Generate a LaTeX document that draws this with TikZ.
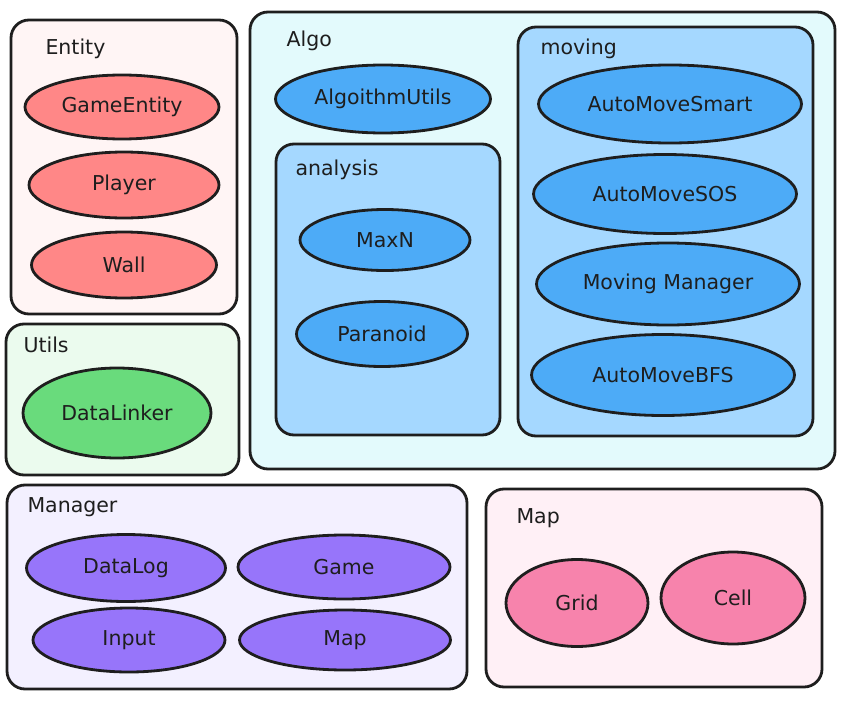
\documentclass[tikz,border=0pt]{standalone}
\usepackage{fontspec}
\setmainfont{DejaVu Sans}
\usetikzlibrary{shapes.geometric}
\definecolor{ink}{HTML}{1E1E1E}
\definecolor{entitybg}{HTML}{FFF5F5}
\definecolor{entityfg}{HTML}{FF8787}
\definecolor{utilsbg}{HTML}{EBFBEE}
\definecolor{utilsfg}{HTML}{69DB7C}
\definecolor{algobg}{HTML}{E3FAFC}
\definecolor{algomid}{HTML}{A5D8FF}
\definecolor{algofg}{HTML}{4DABF7}
\definecolor{managerbg}{HTML}{F3F0FF}
\definecolor{managerfg}{HTML}{9775FA}
\definecolor{mapbg}{HTML}{FFF0F6}
\definecolor{mapfg}{HTML}{F783AC}
\begin{document}
\begin{tikzpicture}[x=1pt,y=-1pt,
    every node/.style={font=\fontsize{20.5}{24}\selectfont, text=ink},
    group/.style={draw=ink, line width=2.8pt, rounded corners=18pt},
    title/.style={anchor=base west},
    blob/.style 2 args={ellipse, draw=ink, line width=2.8pt, inner sep=0pt,
      minimum width=#1pt, minimum height=#2pt}]
  \useasboundingbox (0,0) rectangle (846,701);
  \draw[group, fill=entitybg] (11,20) rectangle (237,314);
  \draw[group, fill=utilsbg] (6,324) rectangle (239,475);
  \draw[group, fill=algobg] (250,12) rectangle (835,469);
  \draw[group, fill=algomid] (276,144) rectangle (500,435);
  \draw[group, fill=algomid] (518,27) rectangle (813,436);
  \draw[group, fill=managerbg] (7,485) rectangle (467,689);
  \draw[group, fill=mapbg] (486,489) rectangle (822,687);
  \draw
    (42,55) node[title] (entity) {Entity}
    (122,107) node[blob={194}{64}, fill=entityfg] (gameentity) {GameEntity}
    (124,185) node[blob={190}{66}, fill=entityfg] (player) {Player}
    (124,265) node[blob={185}{66}, fill=entityfg] (wall) {Wall}
    (20,352) node[title] (utils) {Utils}
    (117,413) node[blob={188}{90}, fill=utilsfg] (datalinker) {DataLinker}
    (283,47) node[title] (algo) {Algo}
    (383,99) node[blob={215}{68}, fill=algofg] (algoithmutils) {AlgoithmUtils}
    (292,175) node[title] (analysis) {analysis}
    (385,240) node[blob={170}{61}, fill=algofg] (maxn) {MaxN}
    (382,334) node[blob={171}{65}, fill=algofg] (paranoid) {Paranoid}
    (537,55) node[title] (moving) {moving}
    (670,104) node[blob={263}{78}, fill=algofg] (automovesmart) {AutoMoveSmart}
    (665,194) node[blob={263}{79}, fill=algofg] (automovesos) {AutoMoveSOS}
    (668,284) node[blob={263}{82}, fill=algofg] (movingmanager) {Moving Manager}
    (663,375) node[blob={263}{81}, fill=algofg] (automovebfs) {AutoMoveBFS}
    (24,512) node[title] (manager) {Manager}
    (126,568) node[blob={199}{67}, fill=managerfg] (datalog) {DataLog}
    (344,567) node[blob={212}{64}, fill=managerfg] (game) {Game}
    (129,640) node[blob={192}{64}, fill=managerfg] (input) {Input}
    (345,640) node[blob={211}{60}, fill=managerfg] (mapmgr) {Map}
    (513,523) node[title] (map) {Map}
    (577,603) node[blob={142}{87}, fill=mapfg] (grid) {Grid}
    (733,598) node[blob={144}{92}, fill=mapfg] (cell) {Cell};
\end{tikzpicture}
\end{document}
